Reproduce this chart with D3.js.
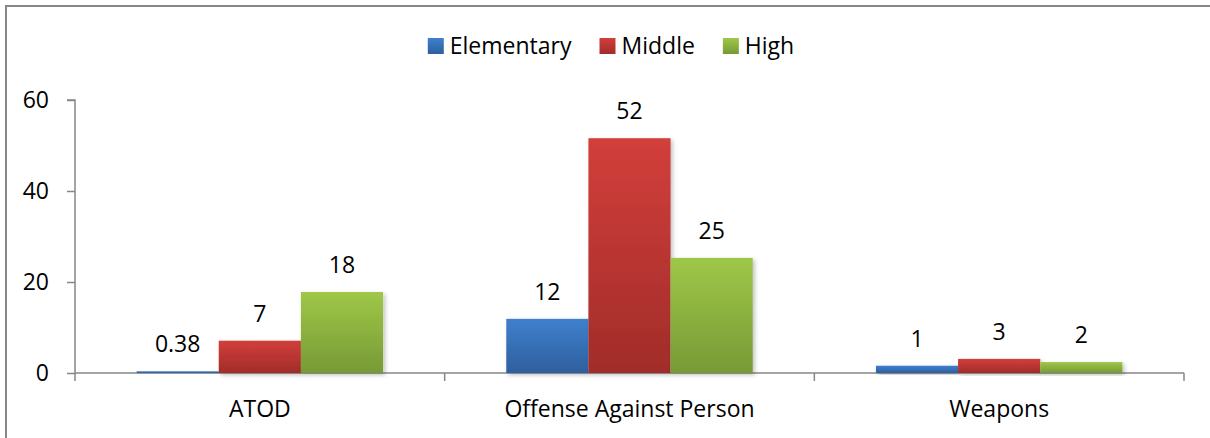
<!DOCTYPE html>
<html>
<head>
<meta charset="utf-8">
<title>Incidents by school level</title>
<script src="https://d3js.org/d3.v7.min.js"></script>
<style>
  body { margin: 0; background: #fff; }
  text { font-family: "Open Sans", "Liberation Sans", sans-serif; fill: #000; }
</style>
</head>
<body>
<script>
var width  = 1210;
var height = 438;
var fontSize = 23;

var categories = ["ATOD", "Offense Against Person", "Weapons"];
var seriesNames = ["Elementary", "Middle", "High"];
var elementary = [0.38, 11.9, 1.6];
var middle     = [7.1, 51.6, 3.1];
var high       = [17.8, 25.3, 2.4];
var labelText  = [["0.38", "12", "1"], ["7", "52", "3"], ["18", "25", "2"]];
var yTicks     = [0, 20, 40, 60];

var seriesValues = [elementary, middle, high];
var colours = [
  { top: "#3f80cd", bottom: "#2e5f9e" },
  { top: "#d23f3b", bottom: "#a12c29" },
  { top: "#9fc748", bottom: "#779a36" }
];

var plot = { left: 75, right: 1184, top: 100, bottom: 373 };

var svg = d3.select("body").append("svg")
  .attr("width", width)
  .attr("height", height);

var defs = svg.append("defs");
colours.forEach(function(c, i) {
  var g = defs.append("linearGradient").attr("id", "grad" + i)
    .attr("x1", 0).attr("y1", 0).attr("x2", 0).attr("y2", 1);
  g.append("stop").attr("offset", "0%").attr("stop-color", c.top);
  g.append("stop").attr("offset", "100%").attr("stop-color", c.bottom);
});
var shadow = defs.append("filter").attr("id", "shadow")
  .attr("x", "-10%").attr("y", "-10%").attr("width", "130%").attr("height", "130%");
shadow.append("feDropShadow").attr("dx", 2).attr("dy", 2)
  .attr("stdDeviation", 2).attr("flood-color", "#000").attr("flood-opacity", 0.25);

// outer frame (only top and left edges visible in the crop)
svg.append("path")
  .attr("d", "M6,438V6H1210")
  .attr("fill", "none").attr("stroke", "#878787").attr("stroke-width", 2);

var yScale = d3.scaleLinear().domain([0, 60]).range([plot.bottom, plot.top]);
var xScale = d3.scaleBand().domain(categories).range([plot.left, plot.right]).padding(0);
var groupWidth = xScale.bandwidth() * 3 / 4.5;
var xInner = d3.scaleBand().domain(d3.range(seriesNames.length)).range([0, groupWidth]);

// y axis
var yAxis = svg.append("g").attr("transform", "translate(" + plot.left + ",0)")
  .call(d3.axisLeft(yScale).tickValues(yTicks).tickSize(8).tickPadding(18).tickFormat(d3.format("d")));
yAxis.select(".domain").attr("d", "M0," + (plot.bottom + 8) + "V" + plot.top + "H-8");
yAxis.selectAll("line, .domain").attr("stroke", "#878787").attr("stroke-width", 1.5);
yAxis.selectAll("text").attr("font-size", fontSize).attr("fill", "#000")
  .style("font-family", "\"Open Sans\", sans-serif");

// x axis baseline with category dividers
var xAxis = svg.append("g");
xAxis.append("line")
  .attr("x1", plot.left).attr("x2", plot.right)
  .attr("y1", plot.bottom).attr("y2", plot.bottom)
  .attr("stroke", "#878787").attr("stroke-width", 1.5);
var bounds = categories.map(function(c) { return xScale(c) + xScale.bandwidth(); });
xAxis.selectAll(".divider").data(bounds).enter().append("line")
  .attr("x1", d => d).attr("x2", d => d)
  .attr("y1", plot.bottom).attr("y2", plot.bottom + 8)
  .attr("stroke", "#878787").attr("stroke-width", 1.5);
xAxis.selectAll(".cat").data(categories).enter().append("text")
  .attr("x", d => xScale(d) + xScale.bandwidth() / 2)
  .attr("y", 417)
  .attr("text-anchor", "middle")
  .attr("font-size", fontSize)
  .text(d => d);

// bars
var groups = svg.selectAll(".group").data(categories).enter().append("g")
  .attr("transform", d => "translate(" + (xScale(d) + (xScale.bandwidth() - groupWidth) / 2) + ",0)");

groups.each(function(cat, ci) {
  var g = d3.select(this);
  var rows = seriesValues.map(function(vals, si) {
    return { si: si, value: vals[ci], label: labelText[si][ci] };
  });
  g.selectAll("rect").data(rows).enter().append("rect")
    .attr("x", d => xInner(d.si))
    .attr("y", d => yScale(d.value))
    .attr("width", xInner.bandwidth())
    .attr("height", d => plot.bottom - yScale(d.value))
    .attr("fill", d => "url(#grad" + d.si + ")")
    .attr("filter", "url(#shadow)");
  g.selectAll("text").data(rows).enter().append("text")
    .attr("x", d => xInner(d.si) + xInner.bandwidth() / 2)
    .attr("y", d => yScale(d.value) - 19)
    .attr("text-anchor", "middle")
    .attr("font-size", fontSize)
    .text(d => d.label);
});

// legend
var legend = svg.append("g");
var lx = 0;
seriesNames.forEach(function(name, i) {
  var item = legend.append("g");
  item.append("rect").attr("x", 0).attr("y", 38).attr("width", 16).attr("height", 16)
    .attr("fill", "url(#grad" + i + ")");
  var t = item.append("text").attr("x", 22).attr("y", 54).attr("font-size", fontSize).text(name);
  item.attr("transform", "translate(" + lx + ",0)");
  lx += 22 + t.node().getComputedTextLength() + 28;
});
var legendWidth = lx - 28;
legend.attr("transform", "translate(" + (611 - legendWidth / 2) + ",0)");
</script>
</body>
</html>
